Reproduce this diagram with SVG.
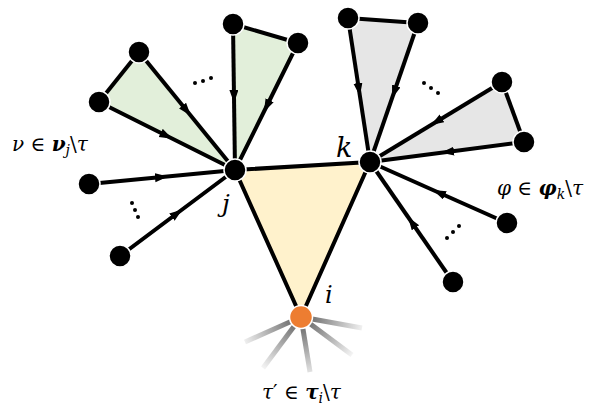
<svg xmlns="http://www.w3.org/2000/svg" width="609" height="412" viewBox="0 0 609 412">
<style>
.edge{fill:none;stroke:#000;stroke-width:4;stroke-linejoin:round}
.arr{marker-mid:url(#ah)}
.node{fill:#000;stroke:#fff;stroke-width:1.5}
.dot{fill:#000}
.lab{font-family:"DejaVu Serif","Liberation Serif",serif;fill:#000}
.it{font-style:italic}
.bi{font-style:italic;font-weight:bold}
.ray{stroke:url(#rg);stroke-width:5;fill:none}
</style>
<defs>
<marker id="ah" markerUnits="userSpaceOnUse" markerWidth="14" markerHeight="10" refX="7" refY="4.5" orient="auto">
<path d="M0,0 L13,4.5 L0,9 Z" fill="#000"/>
</marker>
<radialGradient id="rg" gradientUnits="userSpaceOnUse" cx="301" cy="317" r="68">
<stop offset="0.2" stop-color="#7a7a7a"/>
<stop offset="1" stop-color="#ffffff"/>
</radialGradient>
</defs>
<g id="faces">
<polygon points="235,170 370,162 301,317" fill="#FFF2CC"/>
<polygon points="235,170 139,52 99,102" fill="#E2EFDA"/>
<polygon points="235,170 233,24 298,43" fill="#E2EFDA"/>
<polygon points="370,162 348,18 418,23" fill="#E6E6E6"/>
<polygon points="370,162 502,82 524,142" fill="#E6E6E6"/>
</g>
<g id="rays">
<line class="ray" x1="301" y1="317" x2="245" y2="342"/>
<line class="ray" x1="301" y1="317" x2="263" y2="368"/>
<line class="ray" x1="301" y1="317" x2="310" y2="372"/>
<line class="ray" x1="301" y1="317" x2="352" y2="355"/>
<line class="ray" x1="301" y1="317" x2="362" y2="328"/>
</g>
<g id="connectors">
<path class="edge" d="M235,170 L370,162 L301,317 Z"/>
<line class="edge" x1="139" y1="52" x2="99" y2="102"/>
<line class="edge" x1="233" y1="24" x2="298" y2="43"/>
<line class="edge" x1="348" y1="18" x2="418" y2="23"/>
<line class="edge" x1="502" y1="82" x2="524" y2="142"/>
<path class="edge arr" d="M139,52 L187,111 L235,170"/>
<path class="edge arr" d="M99,102 L167,136 L235,170"/>
<path class="edge arr" d="M233,24 L234,97 L235,170"/>
<path class="edge arr" d="M298,43 L266.5,106.5 L235,170"/>
<path class="edge arr" d="M89,184 L162,177 L235,170"/>
<path class="edge arr" d="M120,256 L177.5,213 L235,170"/>
<path class="edge arr" d="M348,18 L359,90 L370,162"/>
<path class="edge arr" d="M418,23 L394,92.5 L370,162"/>
<path class="edge arr" d="M502,82 L436,122 L370,162"/>
<path class="edge arr" d="M524,142 L447,152 L370,162"/>
<path class="edge arr" d="M507,223 L438.5,192.5 L370,162"/>
<path class="edge arr" d="M453,282 L411.5,222 L370,162"/>
</g>
<g id="node-j"><circle class="node" cx="235" cy="170" r="11"/></g>
<g id="node-k"><circle class="node" cx="370" cy="162" r="11"/></g>
<g id="node-i"><circle cx="301" cy="317" r="11.5" fill="#ED7D31" stroke="#fff" stroke-width="1.5"/></g>
<g id="node-a1"><circle class="node" cx="139" cy="52" r="11"/></g>
<g id="node-a2"><circle class="node" cx="99" cy="102" r="11"/></g>
<g id="node-a3"><circle class="node" cx="233" cy="24" r="11"/></g>
<g id="node-a4"><circle class="node" cx="298" cy="43" r="11"/></g>
<g id="node-a5"><circle class="node" cx="89" cy="184" r="11"/></g>
<g id="node-a6"><circle class="node" cx="120" cy="256" r="11"/></g>
<g id="node-b1"><circle class="node" cx="348" cy="18" r="11"/></g>
<g id="node-b2"><circle class="node" cx="418" cy="23" r="11"/></g>
<g id="node-b3"><circle class="node" cx="502" cy="82" r="11"/></g>
<g id="node-b4"><circle class="node" cx="524" cy="142" r="11"/></g>
<g id="node-b5"><circle class="node" cx="507" cy="223" r="11"/></g>
<g id="node-b6"><circle class="node" cx="453" cy="282" r="11"/></g>
<g id="ellipses">
<circle class="dot" cx="195" cy="83" r="2"/><circle class="dot" cx="203" cy="81" r="2"/><circle class="dot" cx="211" cy="78" r="2"/>
<circle class="dot" cx="132" cy="203" r="2"/><circle class="dot" cx="135" cy="210" r="2"/><circle class="dot" cx="138" cy="217" r="2"/>
<circle class="dot" cx="424" cy="83" r="2"/><circle class="dot" cx="431" cy="88" r="2"/><circle class="dot" cx="438" cy="93" r="2"/>
<circle class="dot" cx="447" cy="238" r="2"/><circle class="dot" cx="453" cy="232" r="2"/><circle class="dot" cx="459" cy="226" r="2"/>
</g>
<g id="labels">
<text class="lab" x="12" y="151" font-size="20"><tspan class="it">ν</tspan> ∈ <tspan class="bi">ν</tspan><tspan class="it" font-size="14" dy="4">j</tspan><tspan dy="-4">\</tspan><tspan class="it">τ</tspan></text>
<text class="lab" x="497" y="195" font-size="20"><tspan class="it">φ</tspan> ∈ <tspan class="bi">φ</tspan><tspan class="it" font-size="14" dy="4">k</tspan><tspan dy="-4">\</tspan><tspan class="it">τ</tspan></text>
<text class="lab" x="262" y="399" font-size="20"><tspan class="it">τ</tspan>′ ∈ <tspan class="bi">τ</tspan><tspan class="it" font-size="14" dy="4">i</tspan><tspan dy="-4">\</tspan><tspan class="it">τ</tspan></text>
<text class="lab it" x="222" y="212" font-size="25">j</text>
<text class="lab it" x="336" y="157" font-size="27">k</text>
<text class="lab it" x="325" y="303" font-size="24">i</text>
</g>
</svg>
